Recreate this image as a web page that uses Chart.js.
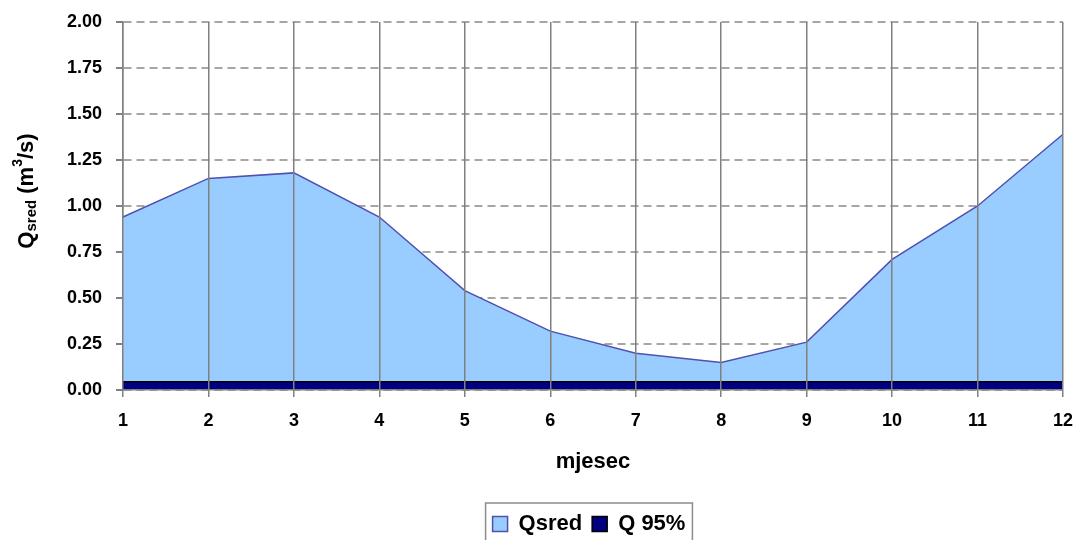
<!DOCTYPE html>
<html>
<head>
<meta charset="utf-8">
<script src="https://cdn.jsdelivr.net/npm/chart.js@4/dist/chart.umd.min.js"></script>
<style>
  html, body { margin: 0; padding: 0; background: #fff; }
  #wrap { width: 1078px; height: 540px; }
</style>
</head>
<body>
<div id="wrap"><canvas id="chart" width="1078" height="540"></canvas></div>
<script>
// months on the x axis
const months = ['1', '2', '3', '4', '5', '6', '7', '8', '9', '10', '11', '12'];
// mean monthly discharge (m3/s)
const qsred = [0.94, 1.15, 1.18, 0.94, 0.54, 0.32, 0.20, 0.15, 0.26, 0.71, 1.00, 1.39];
// 95% discharge (m3/s)
const q95 = [0.045, 0.045, 0.045, 0.045, 0.045, 0.045, 0.045, 0.045, 0.045, 0.045, 0.045, 0.045];
const yMin = 0;
const yMax = 2;
const yStep = 0.25;

const FONT = 'Liberation Sans, Arial, sans-serif';

// y title with subscript / superscript
const yTitlePlugin = {
    id: 'yTitle',
    afterDraw(chart) {
        const ctx = chart.ctx;
        const area = chart.chartArea;
        const parts = [
            { t: 'Q', size: 22, dy: 0 },
            { t: 'sred', size: 15, dy: 5 },
            { t: ' (m', size: 22, dy: 0 },
            { t: '3', size: 14, dy: -9 },
            { t: '/s)', size: 22, dy: 0 }
        ];
        ctx.save();
        let total = 0;
        parts.forEach(p => {
            ctx.font = 'bold ' + p.size + 'px ' + FONT;
            p.w = ctx.measureText(p.t).width;
            total += p.w;
        });
        ctx.translate(27, (area.top + area.bottom) / 2 - 15);
        ctx.rotate(-Math.PI / 2);
        ctx.fillStyle = '#000';
        ctx.textBaseline = 'middle';
        let x = -total / 2;
        parts.forEach(p => {
            ctx.font = 'bold ' + p.size + 'px ' + FONT;
            ctx.fillText(p.t, x, p.dy);
            x += p.w;
        });
        ctx.restore();
    }
};

// center legend under the plot, nudge it down a bit and frame it
const legendFramePlugin = {
    id: 'legendFrame',
    afterLayout(chart) {
        const lg = chart.legend;
        lg.left = chart.chartArea.left - 4;
        lg.right = chart.chartArea.right - 4;
        lg.top += 5;
        lg.bottom += 5;
    },
    afterDraw(chart) {
        const boxes = chart.legend.legendHitBoxes;
        if (!boxes || !boxes.length) return;
        const first = boxes[0];
        const last = boxes[boxes.length - 1];
        const ctx = chart.ctx;
        ctx.save();
        ctx.strokeStyle = '#8c8c8c';
        ctx.lineWidth = 1.5;
        ctx.strokeRect(first.left - 7, first.top - 10, last.left + last.width - first.left + 14, 60);
        ctx.restore();
    }
};

const ctx = document.getElementById('chart').getContext('2d');
new Chart(ctx, {
    type: 'line',
    data: {
        labels: months,
        datasets: [{
            label: 'Qsred',
            data: qsred,
            fill: 'origin',
            backgroundColor: '#99ccff',
            borderColor: '#5050b0',
            borderWidth: 1.5,
            pointRadius: 0,
            tension: 0,
            order: 1
        }, {
            label: 'Q 95%',
            data: q95,
            fill: 'origin',
            backgroundColor: '#000080',
            borderColor: '#000000',
            borderWidth: 1.5,
            pointRadius: 0,
            tension: 0,
            order: 0
        }]
    },
    options: {
        responsive: false,
        animation: false,
        layout: { padding: { top: 22, right: 15, left: 0, bottom: 0 } },
        plugins: {
            tooltip: { enabled: false },
            legend: {
                position: 'bottom',
                labels: {
                    color: '#000',
                    font: { family: FONT, size: 22, weight: 'bold' },
                    boxWidth: 15,
                    boxHeight: 15,
                    padding: 10,
                    sort: (a, b) => a.datasetIndex - b.datasetIndex
                }
            }
        },
        scales: {
            x: {
                grid: { color: '#808080', lineWidth: 1.5, tickLength: 7, tickColor: '#808080', z: 1 },
                border: { color: '#808080', width: 1.5, z: 2 },
                ticks: { color: '#000', padding: 13, maxRotation: 0, font: { family: FONT, size: 18, weight: 'bold' } },
                title: {
                    display: true,
                    text: 'mjesec',
                    color: '#000',
                    font: { family: FONT, size: 22, weight: 'bold' },
                    padding: { top: 16, bottom: 23 }
                },
                afterFit: s => { s.height = 108; s.paddingRight = 0; s.paddingLeft = 0; }
            },
            y: {
                min: yMin,
                max: yMax,
                grid: { color: '#a6a6a6', lineWidth: 2, tickLength: 7, tickColor: '#808080' },
                border: { color: '#808080', width: 1.5, dash: [8, 5] },
                ticks: {
                    stepSize: yStep,
                    color: '#000',
                    padding: 14,
                    font: { family: FONT, size: 18, weight: 'bold' },
                    callback: v => v.toFixed(2)
                },
                afterFit: s => { s.width = 123; s.paddingTop = 0; s.paddingBottom = 0; }
            }
        }
    },
    plugins: [yTitlePlugin, legendFramePlugin]
});
</script>
</body>
</html>
